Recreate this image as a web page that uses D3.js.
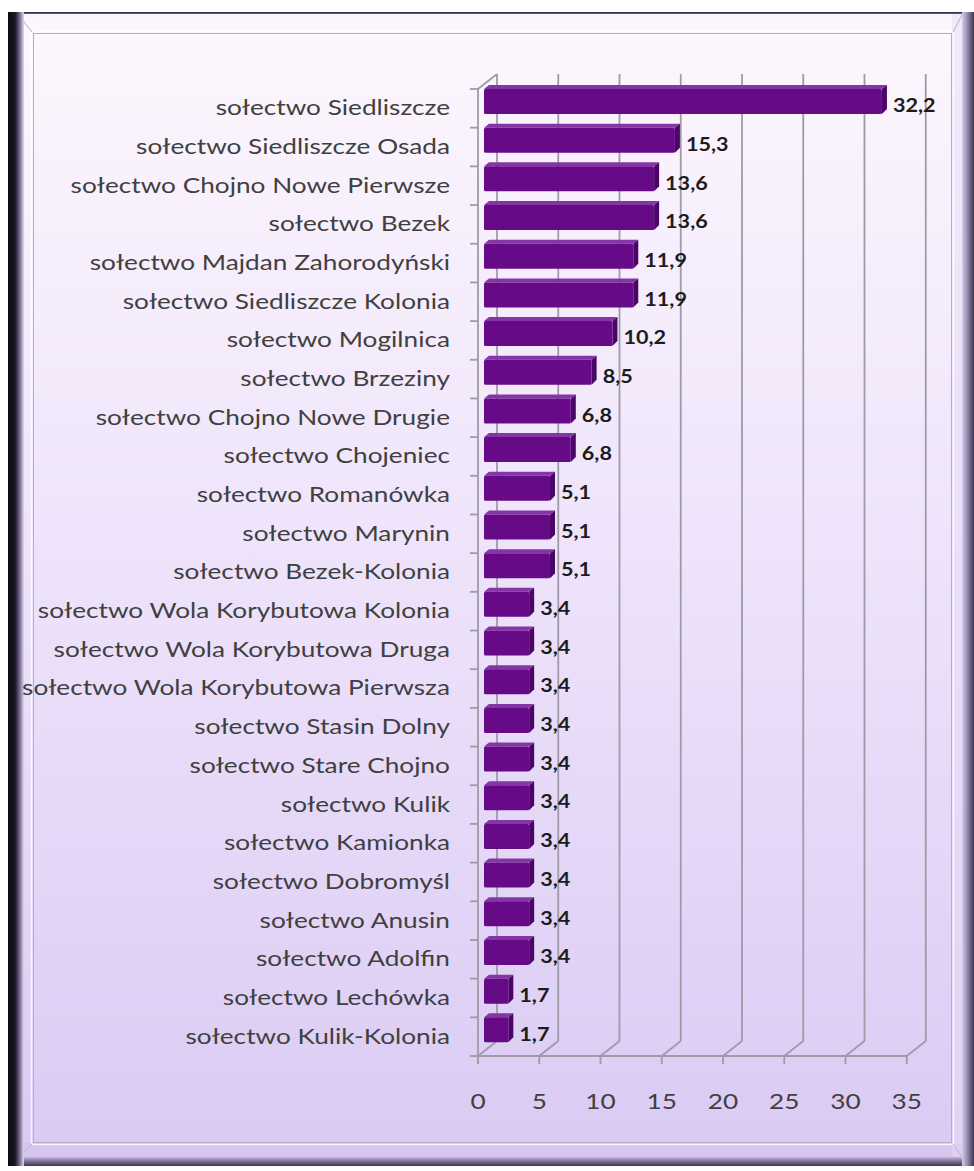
<!DOCTYPE html>
<html>
<head>
<meta charset="utf-8">
<script src="https://cdn.jsdelivr.net/npm/d3@7/dist/d3.min.js"></script>
<style>
  html, body { margin: 0; padding: 0; background: #ffffff; }
  svg { display: block; }
</style>
</head>
<body>
<svg id="chart" width="974" height="1171"></svg>
<script>
// ---------- data ----------
const categories = [
  "sołectwo Siedliszcze",
  "sołectwo Siedliszcze Osada",
  "sołectwo Chojno Nowe Pierwsze",
  "sołectwo Bezek",
  "sołectwo Majdan Zahorodyński",
  "sołectwo Siedliszcze Kolonia",
  "sołectwo Mogilnica",
  "sołectwo Brzeziny",
  "sołectwo Chojno Nowe Drugie",
  "sołectwo Chojeniec",
  "sołectwo Romanówka",
  "sołectwo Marynin",
  "sołectwo Bezek-Kolonia",
  "sołectwo Wola Korybutowa Kolonia",
  "sołectwo Wola Korybutowa Druga",
  "sołectwo Wola Korybutowa Pierwsza",
  "sołectwo Stasin Dolny",
  "sołectwo Stare Chojno",
  "sołectwo Kulik",
  "sołectwo Kamionka",
  "sołectwo Dobromyśl",
  "sołectwo Anusin",
  "sołectwo Adolfin",
  "sołectwo Lechówka",
  "sołectwo Kulik-Kolonia"
];
const values = [32.2, 15.3, 13.6, 13.6, 11.9, 11.9, 10.2, 8.5, 6.8, 6.8,
                5.1, 5.1, 5.1, 3.4, 3.4, 3.4, 3.4, 3.4, 3.4, 3.4,
                3.4, 3.4, 3.4, 1.7, 1.7];
const xTicks = [0, 5, 10, 15, 20, 25, 30, 35];
const fmt = v => d3.format(".1f")(v).replace(".", ",");

// ---------- layout ----------
const W = 974, H = 1171;
const svg = d3.select("#chart");
const defs = svg.append("defs");

const plotTop = 89, plotBottom = 1056;
const DX = 19, DY = -15;            // depth offset of back wall
const x = d3.scaleLinear().domain([0, 35]).range([478, 906.75]);
const xBack = v => x(v) + DX;
const xBar = d3.scaleLinear().domain([0, 35]).range([x(0) + 9.5, x(35) + 9.5]);
const y = d3.scaleBand().domain(categories).range([plotTop, plotBottom]).padding(0);

// ---------- gradients ----------
const bg = defs.append("linearGradient").attr("id", "bg").attr("x1", 0).attr("y1", 0).attr("x2", 0).attr("y2", 1);
bg.append("stop").attr("offset", "0%").attr("stop-color", "#fdf7fd");
bg.append("stop").attr("offset", "45%").attr("stop-color", "#efe4fb");
bg.append("stop").attr("offset", "100%").attr("stop-color", "#dacaf3");

const leftG = defs.append("linearGradient").attr("id", "leftG").attr("x1", 0).attr("y1", 0).attr("x2", 1).attr("y2", 0);
leftG.append("stop").attr("offset", "0%").attr("stop-color", "#0c0810");
leftG.append("stop").attr("offset", "45%").attr("stop-color", "#1e1628");
leftG.append("stop").attr("offset", "75%").attr("stop-color", "#7c7096");
leftG.append("stop").attr("offset", "100%").attr("stop-color", "#e2daf2");

const rightG = defs.append("linearGradient").attr("id", "rightG").attr("x1", 0).attr("y1", 0).attr("x2", 1).attr("y2", 0);
rightG.append("stop").attr("offset", "0%").attr("stop-color", "#d8ccec");
rightG.append("stop").attr("offset", "50%").attr("stop-color", "#8e82a6");
rightG.append("stop").attr("offset", "100%").attr("stop-color", "#3c3350");

const botG = defs.append("linearGradient").attr("id", "botG").attr("x1", 0).attr("y1", 0).attr("x2", 0).attr("y2", 1);
botG.append("stop").attr("offset", "0%").attr("stop-color", "#c6b8dc");
botG.append("stop").attr("offset", "50%").attr("stop-color", "#7a6e92");
botG.append("stop").attr("offset", "100%").attr("stop-color", "#3e3552");

// ---------- frame ----------
svg.append("rect").attr("x", 0).attr("y", 0).attr("width", W).attr("height", H).attr("fill", "#ffffff");
svg.append("rect").attr("x", 8).attr("y", 12).attr("width", W - 8).attr("height", 1154).attr("fill", "url(#bg)");
svg.append("rect").attr("x", 17).attr("y", 1143).attr("width", 946).attr("height", 15).attr("fill", "#d2c2ec").attr("opacity", 0.6);
svg.append("rect").attr("x", 952).attr("y", 14).attr("width", 11).attr("height", 1144).attr("fill", "#e6dcf6").attr("opacity", 0.5);
svg.append("rect").attr("x", 33.5).attr("y", 33.5).attr("width", 918).attr("height", 1109)
  .attr("fill", "none").attr("stroke", "#b7abcc").attr("stroke-width", 1);
svg.append("rect").attr("x", 31.5).attr("y", 31.5).attr("width", 922).attr("height", 1113)
  .attr("fill", "none").attr("stroke", "#ffffff").attr("stroke-width", 1.5).attr("opacity", 0.8);
const corners = [[17, 13, 32, 32], [963, 13, 953, 32], [17, 1158, 32, 1144], [963, 1158, 953, 1144]];
svg.append("g").selectAll("line").data(corners).join("line")
  .attr("x1", d => d[0]).attr("y1", d => d[1]).attr("x2", d => d[2]).attr("y2", d => d[3])
  .attr("stroke", "#c4b8d6").attr("stroke-width", 1.2);
svg.append("rect").attr("x", 8).attr("y", 12).attr("width", W - 8).attr("height", 1.8).attr("fill", "#3a2e4e");
svg.append("rect").attr("x", 8).attr("y", 1157).attr("width", W - 8).attr("height", 9).attr("fill", "url(#botG)");
svg.append("rect").attr("x", 962).attr("y", 12).attr("width", 12).attr("height", 1154).attr("fill", "url(#rightG)");
svg.append("rect").attr("x", 8).attr("y", 12).attr("width", 16).attr("height", 1154).attr("fill", "url(#leftG)");

// ---------- walls / grid ----------
const gridColor = "#9e9ba8";
const grid = svg.append("g").attr("stroke", gridColor).attr("stroke-width", 1.8).attr("fill", "none");
grid.selectAll("line.gv").data(xTicks).join("line").attr("class", "gv")
  .attr("x1", d => xBack(d)).attr("x2", d => xBack(d))
  .attr("y1", plotTop + DY).attr("y2", plotBottom + DY);
grid.selectAll("line.gd").data(xTicks).join("line").attr("class", "gd")
  .attr("x1", d => x(d)).attr("y1", plotBottom)
  .attr("x2", d => xBack(d)).attr("y2", plotBottom + DY);
grid.append("line").attr("x1", x(0)).attr("x2", x(0)).attr("y1", plotTop).attr("y2", plotBottom + 8);
grid.append("line").attr("x1", x(0)).attr("y1", plotTop).attr("x2", xBack(0)).attr("y2", plotTop + DY);
grid.append("line").attr("x1", x(0) - 8).attr("x2", x(35)).attr("y1", plotBottom).attr("y2", plotBottom);
grid.selectAll("line.xt").data(xTicks).join("line").attr("class", "xt")
  .attr("x1", d => x(d)).attr("x2", d => x(d)).attr("y1", plotBottom).attr("y2", plotBottom + 8);
const bounds = categories.map(c => y(c)).concat([plotBottom]);
grid.selectAll("line.ct").data(bounds).join("line").attr("class", "ct")
  .attr("x1", x(0) - 8).attr("x2", x(0)).attr("y1", d => d).attr("y2", d => d);

// ---------- bars ----------
const bdx = 5, bdy = -4, faceH = 25;
const bars = svg.append("g");
categories.forEach((c, i) => {
  const v = values[i];
  const x0 = xBar(0) - 3.5, x1 = xBar(v);
  const t = y(c), b = t + faceH;
  const g = bars.append("g");
  g.append("path")
    .attr("d", `M${x0},${t} L${x0 + bdx},${t + bdy} L${x1 + bdx},${t + bdy} L${x1},${t} Z`)
    .attr("fill", "#8536a6");
  g.append("path")
    .attr("d", `M${x1},${t} L${x1 + bdx},${t + bdy} L${x1 + bdx},${b + bdy - 1} L${x1},${b} Z`)
    .attr("fill", "#4a0566");
  g.append("rect").attr("x", x0).attr("y", t).attr("width", x1 - x0).attr("height", faceH)
    .attr("fill", "#660a88").attr("rx", 1.5);
});

// ---------- text ----------
// data labels
svg.append("g").selectAll("text").data(categories).join("text")
  .attr("transform", (c, i) => `translate(${xBar(values[i]) + 11},${y(c) + 16}) scale(1.2,1)`)
  .attr("dominant-baseline", "central")
  .attr("font-family", "Lato, 'Open Sans', sans-serif")
  .attr("font-weight", 700)
  .attr("font-size", 18)
  .attr("fill", "#1c1c1c")
  .text((c, i) => fmt(values[i]));

// category labels
const catG = svg.append("g");
const catText = catG.selectAll("text").data(categories).join("text")
  .attr("dominant-baseline", "central")
  .attr("text-anchor", "end")
  .attr("font-family", "Lato, 'Open Sans', sans-serif")
  .attr("font-size", 21)
  .attr("fill", "#404040")
  .text(d => d);
const longest = d3.max(catText.nodes(), n => n.getComputedTextLength());
const k = 428 / longest;
catText.attr("transform", c => `translate(450,${y(c) + y.bandwidth() / 2 - 1}) scale(${k},1)`);

// x tick labels
svg.append("g").selectAll("text").data(xTicks).join("text")
  .attr("transform", d => `translate(${x(d)},${1101}) scale(${k},1)`)
  .attr("text-anchor", "middle")
  .attr("dominant-baseline", "central")
  .attr("font-family", "Lato, 'Open Sans', sans-serif")
  .attr("font-size", 21)
  .attr("fill", "#404040")
  .text(d => d);
</script>
</body>
</html>
